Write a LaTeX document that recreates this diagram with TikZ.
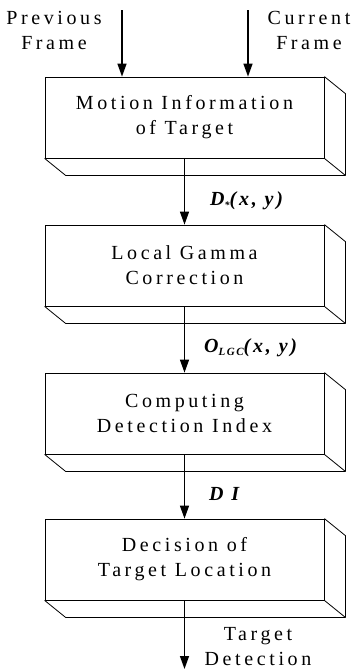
\documentclass[tikz,border=0pt]{standalone}
\usepackage{fontspec}
\setmainfont{Liberation Serif}[LetterSpace=18]
\newfontfamily\lblfont{Liberation Serif}[LetterSpace=14]
\usetikzlibrary{arrows.meta}
\tikzset{
  blk/.style={draw, line width=0.8pt, minimum width=279pt, minimum height=81pt, inner sep=0pt,
    align=center, font=\fontsize{20}{25}\selectfont},
  flow/.style={line width=1.4pt, -{Triangle[width=9pt,length=13pt]}},
  side/.style={line width=0.8pt, line join=round},
  lbl/.style={font=\fontsize{20}{25}\selectfont, align=center, inner sep=0pt},
  mlbl/.style={font=\lblfont\bfseries\itshape\fontsize{20}{22}\selectfont, inner sep=0pt, anchor=west}
}
\newcommand{\shelf}[1]{%
  \draw[side] (#1.north east) -- ([shift={(21pt,-17pt)}]#1.north east)
    -- ([shift={(21pt,-17pt)}]#1.south east) -- ([shift={(21pt,-17pt)}]#1.south west)
    -- (#1.south west);
  \draw[side] (#1.south east) -- ([shift={(21pt,-17pt)}]#1.south east);
}
\begin{document}
\begin{tikzpicture}[x=1pt,y=-1pt]
\useasboundingbox (0,0) rectangle (354,670);
\node[blk] (b1) at (184.5,117.5) {Motion Information\\of Target};
\node[blk] (b2) at (184.5,265.5) {Local Gamma\\Correction};
\node[blk] (b3) at (184.5,413.5) {Computing\\Detection Index};
\node[blk] (b4) at (184.5,559.5) {Decision of\\Target Location};
\shelf{b1}\shelf{b2}\shelf{b3}\shelf{b4}
\node[lbl] (prev) at (54,30) {Previous\\Frame};
\node[lbl] (curr) at (309,30) {Current\\Frame};
\coordinate (pa) at (122,10);
\coordinate (ca) at (248,10);
\draw[flow] (pa) -- (pa |- b1.north);
\draw[flow] (ca) -- (ca |- b1.north);
\draw[flow] (b1.south) -- (b2.north);
\draw[flow] (b2.south) -- (b3.north);
\draw[flow] (b3.south) -- (b4.north);
\coordinate (out) at (184.5,669);
\draw[flow] (b4.south) -- (out);
\node[mlbl] (l1) at (210,201) {D\raisebox{-3pt}{\fontsize{10}{10}\selectfont *}(x, y)};
\node[mlbl] (l2) at (204,348) {O\raisebox{-3pt}{\fontsize{11}{11}\selectfont LGC}(x, y)};
\node[mlbl] (l3) at (209,494) {D I};
\node[lbl] (td) at (258,647) {Target\\Detection};
\end{tikzpicture}
\end{document}
